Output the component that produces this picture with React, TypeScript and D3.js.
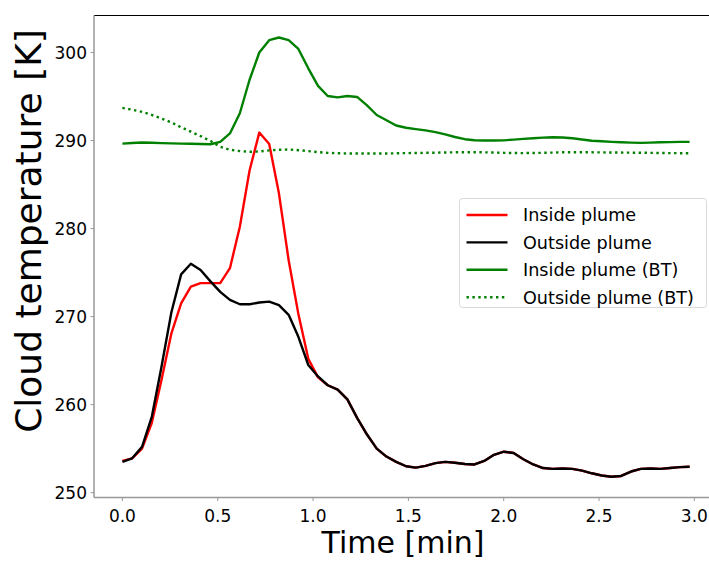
import React from 'react';
import * as d3 from 'd3';

// time in minutes (one sample every ~3 s)
const times = [
  0.0, 0.051, 0.103, 0.154, 0.205, 0.257, 0.308, 0.359, 0.41, 0.462,
  0.513, 0.564, 0.616, 0.667, 0.718, 0.77, 0.821, 0.872, 0.923, 0.975,
  1.026, 1.077, 1.129, 1.18, 1.231, 1.283, 1.334, 1.385, 1.436, 1.488,
  1.539, 1.59, 1.642, 1.693, 1.744, 1.796, 1.847, 1.898, 1.949, 2.001,
  2.052, 2.103, 2.155, 2.206, 2.257, 2.309, 2.36, 2.411, 2.462, 2.514,
  2.565, 2.616, 2.668, 2.719, 2.77, 2.822, 2.873, 2.924, 2.975,
];

const insidePlume = [
  253.6, 253.9, 255.0, 257.9, 262.8, 268.1, 271.5, 273.4, 273.8, 273.8,
  273.8, 275.5, 280.2, 286.6, 290.9, 289.6, 284.0, 276.4, 270.3, 265.2,
  263.1, 262.2, 261.7, 260.6, 258.5, 256.6, 255.0, 254.1, 253.5, 253.0,
  252.85, 253.05, 253.35, 253.5, 253.4, 253.25, 253.2, 253.6, 254.3, 254.65,
  254.5, 253.8, 253.2, 252.8, 252.7, 252.75, 252.7, 252.5, 252.2, 251.95,
  251.8, 251.9, 252.4, 252.7, 252.75, 252.7, 252.8, 252.9, 252.95,
];

const outsidePlume = [
  253.5, 253.9, 255.2, 258.6, 264.3, 270.5, 274.8, 276.0, 275.3, 274.0,
  272.8, 271.9, 271.4, 271.4, 271.6, 271.7, 271.3, 270.2, 267.7, 264.5,
  263.2, 262.2, 261.7, 260.6, 258.5, 256.6, 255.0, 254.1, 253.5, 253.0,
  252.85, 253.05, 253.35, 253.5, 253.4, 253.25, 253.2, 253.6, 254.3, 254.65,
  254.5, 253.8, 253.2, 252.8, 252.7, 252.75, 252.7, 252.5, 252.2, 251.95,
  251.8, 251.9, 252.4, 252.7, 252.75, 252.7, 252.8, 252.9, 252.95,
];

const insidePlumeBT = [
  289.65, 289.72, 289.77, 289.74, 289.7, 289.67, 289.65, 289.63, 289.6, 289.58,
  289.84, 290.8, 293.1, 296.9, 300.0, 301.4, 301.7, 301.4, 300.4, 298.2,
  296.2, 295.06, 294.9, 295.05, 294.95, 294.0, 292.9, 292.3, 291.7, 291.45,
  291.3, 291.15, 290.95, 290.7, 290.4, 290.15, 290.03, 290.0, 290.0, 290.02,
  290.1, 290.18, 290.26, 290.33, 290.37, 290.34, 290.25, 290.12, 289.98, 289.92,
  289.85, 289.8, 289.76, 289.73, 289.76, 289.8, 289.82, 289.84, 289.84,
];

const outsidePlumeBT = [
  293.7, 293.5, 293.25, 292.9, 292.5, 292.05, 291.5, 291.0, 290.5, 289.95,
  289.3, 288.95, 288.8, 288.72, 288.75, 288.88, 288.95, 288.98, 288.9, 288.8,
  288.68, 288.6, 288.55, 288.53, 288.52, 288.52, 288.52, 288.53, 288.55, 288.57,
  288.58, 288.6, 288.62, 288.64, 288.66, 288.67, 288.67, 288.66, 288.64, 288.6,
  288.58, 288.57, 288.58, 288.6, 288.63, 288.66, 288.67, 288.67, 288.66, 288.65,
  288.64, 288.63, 288.62, 288.61, 288.6, 288.58, 288.57, 288.56, 288.56,
];

const xTicks = [0, 0.5, 1, 1.5, 2, 2.5, 3];
const yTicks = [250, 260, 270, 280, 290, 300];

const series = [
  { label: 'Inside plume', values: insidePlume, color: '#ff0000', dash: null },
  { label: 'Outside plume', values: outsidePlume, color: '#000000', dash: null },
  { label: 'Inside plume (BT)', values: insidePlumeBT, color: '#008000', dash: null },
  { label: 'Outside plume (BT)', values: outsidePlumeBT, color: '#008000', dash: '2.4 3.5' },
];

const FONT = '"DejaVu Sans", sans-serif';

export default function App() {
  const width = 709;
  const height = 561;
  const left = 94, right = 718, top = 15.5, bottom = 497.5;

  const x = d3.scaleLinear().domain([-0.149, 3.124]).range([left, right]);
  const y = d3.scaleLinear().domain([249.45, 304.2]).range([bottom, top]);

  const line = d3.line<number>()
    .x((_, i) => x(times[i]))
    .y(d => y(d));

  const legendX = 459.5, legendY = 198.5;
  const rowH = 27.4;

  return (
    <div style={{ position: 'fixed', left: 0, top: 0, background: '#fff' }}>
      <svg width={width} height={height} style={{ display: 'block' }}>
        <rect width={width} height={height} fill="#fff" />
        <defs>
          <clipPath id="plotArea">
            <rect x={left} y={top} width={right - left} height={bottom - top} />
          </clipPath>
        </defs>

        {/* lines */}
        <g clipPath="url(#plotArea)">
          {series.map((s, i) => (
            <path
              key={i}
              d={line(s.values) || ''}
              fill="none"
              stroke={s.color}
              strokeWidth={2.4}
              strokeDasharray={s.dash || undefined}
              strokeLinejoin="round"
            />
          ))}
        </g>

        {/* spines */}
        <line x1={left} x2={right} y1={top} y2={top} stroke="#000" strokeWidth={1} />
        <line x1={left} x2={left} y1={top} y2={bottom} stroke="#999" strokeWidth={1.5} />
        <line x1={left} x2={right} y1={bottom} y2={bottom} stroke="#999" strokeWidth={1.5} />

        {/* y axis */}
        {yTicks.map(t => (
          <g key={t} transform={`translate(${left}, ${y(t)})`}>
            <line x1={-3.5} x2={0} stroke="#999" strokeWidth={1} />
            <text x={-7} dy="0.36em" textAnchor="end" fontFamily={FONT} fontSize={17} fill="#000">
              {t}
            </text>
          </g>
        ))}

        {/* x axis */}
        {xTicks.map(t => (
          <g key={t} transform={`translate(${x(t)}, ${bottom})`}>
            <line y1={0} y2={3.5} stroke="#999" strokeWidth={1} />
            <text y={24} textAnchor="middle" fontFamily={FONT} fontSize={17} fill="#000">
              {t.toFixed(1)}
            </text>
          </g>
        ))}

        <text x={403} y={553} textAnchor="middle" fontFamily={FONT} fontSize={30} fill="#000">
          Time [min]
        </text>
        <text
          transform={`translate(41, 231) rotate(-90)`}
          textAnchor="middle"
          fontFamily={FONT}
          fontSize={36}
          fill="#000"
        >
          Cloud temperature [K]
        </text>

        {/* legend */}
        <rect
          x={legendX}
          y={legendY}
          width={247}
          height={109}
          rx={3}
          fill="#fff"
          fillOpacity={0.8}
          stroke="#d9d9d9"
          strokeWidth={1}
        />
        {series.map((s, i) => (
          <g key={i} transform={`translate(${legendX}, ${legendY + 16.5 + i * rowH})`}>
            <line
              x1={7}
              x2={48}
              stroke={s.color}
              strokeWidth={2.4}
              strokeDasharray={s.dash || undefined}
            />
            <text x={63.5} dy="0.36em" fontFamily={FONT} fontSize={17.6} fill="#000">
              {s.label}
            </text>
          </g>
        ))}
      </svg>
    </div>
  );
}
